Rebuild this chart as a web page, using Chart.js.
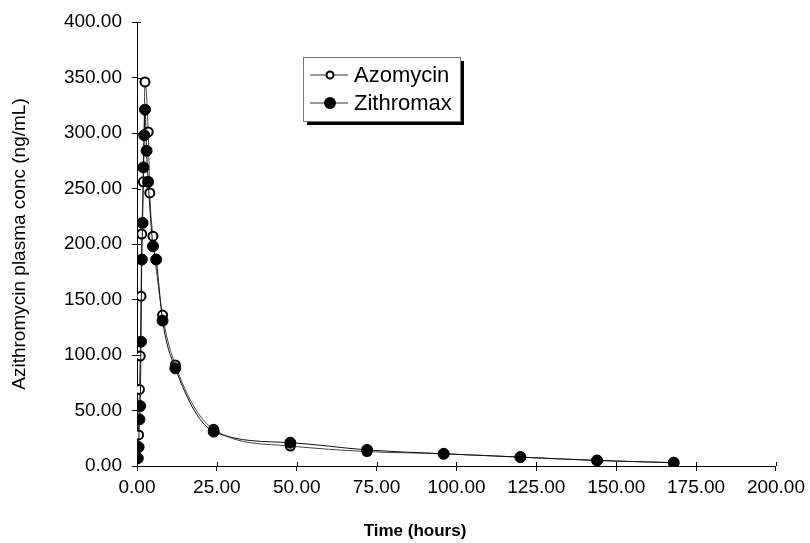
<!DOCTYPE html>
<html>
<head>
<meta charset="utf-8">
<script src="https://cdn.jsdelivr.net/npm/chart.js@4"></script>
<style>
  html, body { margin: 0; padding: 0; background: #fff; }
  #wrap { width: 810px; height: 543px; }
</style>
</head>
<body>
<div id="wrap"><canvas id="pk" width="810" height="543"></canvas></div>
<script>
// sampling times (hours) and concentrations (ng/mL)
const azoTimes = [0.5, 0.75, 1, 1.25, 1.5, 2, 2.5, 3.5, 4, 5, 8, 12, 24, 48, 72, 96, 120, 144, 168];
const azoConc  = [28, 69, 99, 153, 209, 256, 346, 301, 246, 207, 136, 91, 33, 18, 13, 11, 8, 5, 3];

const zitTimes = [0.25, 0.5, 0.75, 1, 1.25, 1.5, 1.75, 2, 2.25, 2.5, 3, 3.5, 5, 6, 8, 12, 24, 48, 72, 96, 120, 144, 168];
const zitConc  = [7, 17, 42, 54, 112, 186, 219, 269, 298, 321, 284, 256, 198, 186, 131, 88, 31, 21, 14.5, 11, 8, 5, 3];

const seriesNames = ["Azomycin", "Zithromax"];
const xTitle = "Time (hours)";

const FONT = "'Liberation Sans', Arial, sans-serif";

function toPoints(xs, ys) {
    return xs.map((x, i) => ({ x: x, y: ys[i] }));
}

// legend box with drop shadow inside the plot, x title centred on the page,
// and the inner half of the tick marks (Excel style "cross" ticks)
const extras = {
    id: "extras",
    afterDraw(chart) {
        const ctx = chart.ctx;
        const xs = chart.scales.x, ys = chart.scales.y;
        const area = chart.chartArea;

        ctx.save();
        ctx.strokeStyle = "#000";
        ctx.lineWidth = 1;
        ctx.beginPath();
        ys.ticks.forEach(t => {
            const py = Math.round(ys.getPixelForValue(t.value)) + 0.5;
            ctx.moveTo(area.left, py);
            ctx.lineTo(area.left + 4, py);
        });
        xs.ticks.forEach(t => {
            const px = Math.round(xs.getPixelForValue(t.value)) + 0.5;
            ctx.moveTo(px, area.bottom);
            ctx.lineTo(px, area.bottom - 4);
        });
        ctx.stroke();

        const x = 303, y = 57, w = 157, h = 64;
        ctx.fillStyle = "#000";
        ctx.fillRect(x + 4, y + 4, w, h);
        ctx.fillStyle = "#fff";
        ctx.fillRect(x, y, w, h);
        ctx.strokeStyle = "#777";
        ctx.strokeRect(x + 0.5, y + 0.5, w, h);

        // legend rows in the same order as the datasets
        chart.data.datasets.forEach((ds, i) => {
            const cy = y + 18 + i * 28;
            ctx.strokeStyle = "#333";
            ctx.lineWidth = 1;
            ctx.beginPath();
            ctx.moveTo(x + 7, cy);
            ctx.lineTo(x + 45, cy);
            ctx.stroke();
            ctx.beginPath();
            ctx.arc(x + 27, cy, i === 0 ? 3.5 : 5, 0, Math.PI * 2);
            ctx.fillStyle = ds.pointBackgroundColor;
            ctx.fill();
            ctx.lineWidth = 2;
            ctx.strokeStyle = "#000";
            ctx.stroke();
            ctx.fillStyle = "#000";
            ctx.font = "22px " + FONT;
            ctx.textBaseline = "middle";
            ctx.fillText(ds.label, x + 51, cy + 1);
        });

        ctx.font = "bold 17px " + FONT;
        ctx.textAlign = "center";
        ctx.textBaseline = "middle";
        ctx.fillText(xTitle, 415, 531);
        ctx.restore();
    }
};

new Chart(document.getElementById("pk"), {
    type: "line",
    data: {
        datasets: [
            {
                label: seriesNames[0],
                data: toPoints(azoTimes, azoConc),
                order: 1,
                borderColor: "#444",
                borderWidth: 1,
                pointRadius: 4.5,
                pointBorderWidth: 2,
                pointBorderColor: "#000",
                pointBackgroundColor: "#fff",
                cubicInterpolationMode: "monotone"
            },
            {
                label: seriesNames[1],
                data: toPoints(zitTimes, zitConc),
                order: 0,
                borderColor: "#111",
                borderWidth: 1,
                pointRadius: 5.5,
                pointBorderWidth: 1,
                pointBorderColor: "#000",
                pointBackgroundColor: "#000",
                cubicInterpolationMode: "monotone"
            }
        ]
    },
    options: {
        responsive: false,
        animation: false,
        layout: { padding: { top: 22, right: 29, left: 0, bottom: 0 } },
        plugins: {
            legend: { display: false },
            tooltip: { enabled: false }
        },
        scales: {
            x: {
                type: "linear",
                min: 0,
                max: 200,
                afterFit(s) { s.height = 77; },
                ticks: {
                    stepSize: 25,
                    color: "#000",
                    padding: 5,
                    maxRotation: 0,
                    font: { family: FONT, size: 19 },
                    callback: v => v.toFixed(2)
                },
                grid: { drawOnChartArea: false, drawTicks: true, tickLength: 5, color: "#000" },
                border: { display: true, color: "#000", width: 1 }
            },
            y: {
                min: 0,
                max: 400,
                afterFit(s) { s.width = 137; },
                ticks: {
                    stepSize: 50,
                    color: "#000",
                    padding: 10,
                    font: { family: FONT, size: 19 },
                    callback: v => v.toFixed(2)
                },
                grid: { drawOnChartArea: false, drawTicks: true, tickLength: 5, color: "#000" },
                border: { display: true, color: "#000", width: 1 },
                title: {
                    display: true,
                    text: "Azithromycin plasma conc (ng/mL)",
                    color: "#000",
                    padding: { top: 8, bottom: 0 },
                    font: { family: FONT, size: 19 }
                }
            }
        }
    },
    plugins: [extras]
});
</script>
</body>
</html>
